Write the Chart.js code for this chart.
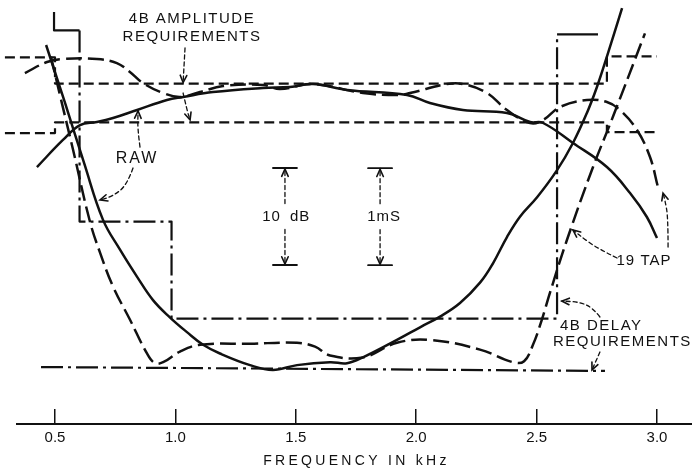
<!DOCTYPE html>
<html lang="en">
<head>
<meta charset="UTF-8">
<title>4B amplitude and delay requirements</title>
<script src="https://cdn.jsdelivr.net/npm/chart.js"></script>
<style>
  html, body { margin: 0; padding: 0; background: #fff; }
  #wrap { width: 692px; height: 471px; }
</style>
</head>
<body>
<div id="wrap"><canvas id="chart" width="692" height="471"></canvas></div>
<script>
// frequency axis, kHz
const xTicks = [0.5, 1.0, 1.5, 2.0, 2.5, 3.0];

// 4B amplitude requirement mask (dB)
const ampUpperFreq = [0.292, 0.5, 0.5, 2.792, 2.792, 3.0];
const ampUpperDb   = [4.7, 4.7, 2.0, 2.0, 4.8, 4.8];
const ampLowerFreq = [0.292, 0.5, 0.5, 2.792, 2.792, 2.99];
const ampLowerDb   = [-3.1, -3.1, -2.0, -2.0, -3.0, -3.0];

// 4B delay requirement mask (ms)
const delayUpperFreq = [0.496, 0.496, 0.602, 0.602, 0.984, 0.984, 2.585, 2.585, 2.755];
const delayUpperMs   = [3.68, 3.49, 3.49, 1.52, 1.52, 0.52, 0.52, 3.45, 3.45];
const delayLowerFreq = [0.442, 2.784];
const delayLowerMs   = [0.02, -0.02];

// raw channel, amplitude (dB)
const rawAmpFreq = [0.425, 0.533, 0.604, 0.674, 0.741, 0.841, 0.965, 1.032, 1.156, 1.364, 1.476, 1.571,
  1.713, 1.962, 2.057, 2.194, 2.377, 2.473, 2.527, 2.651, 2.792, 2.888, 2.958, 3.000];
const rawAmpDb = [-6.60, -3.81, -2.27, -1.96, -1.55, -0.72, 0.31, 0.62, 1.13, 1.55, 1.65, 1.96,
  1.34, 0.82, 0.00, -0.72, -1.03, -1.96, -2.06, -4.12, -6.60, -9.28, -11.75, -13.92];

// 19 tap equalized, amplitude (dB)
const tapAmpFreq = [0.375, 0.467, 0.533, 0.674, 0.757, 0.811, 0.865, 0.949, 1.019, 1.102, 1.198, 1.364,
  1.434, 1.571, 1.779, 1.920, 1.974, 2.128, 2.194, 2.294, 2.377, 2.473, 2.527, 2.597, 2.709, 2.792,
  2.846, 2.917, 2.971, 3.004];
const tapAmpDb = [3.09, 4.23, 4.54, 4.54, 4.12, 3.20, 2.06, 1.03, 0.62, 1.13, 1.75, 1.86,
  1.44, 1.96, 1.03, 0.82, 1.03, 1.96, 1.96, 1.03, -0.72, -2.06, -1.75, -0.41, 0.31, 0.10,
  -0.72, -2.78, -5.57, -8.66];

// raw channel, delay (ms)
const rawDelayFreq = [0.463, 0.542, 0.620, 0.699, 0.770, 0.841, 0.907, 0.978, 1.048, 1.115, 1.185, 1.310,
  1.405, 1.505, 1.642, 1.713, 1.779, 1.920, 2.016, 2.099, 2.182, 2.265, 2.319, 2.377, 2.431, 2.502,
  2.585, 2.651, 2.709, 2.751, 2.792, 2.855];
const rawDelayMs = [3.34, 2.74, 2.13, 1.54, 1.23, 0.95, 0.71, 0.53, 0.38, 0.25, 0.16, 0.04,
  -0.01, 0.04, 0.07, 0.06, 0.12, 0.30, 0.43, 0.54, 0.68, 0.89, 1.09, 1.36, 1.57, 1.77,
  2.05, 2.33, 2.64, 2.91, 3.22, 3.72];

// 19 tap equalized, delay (ms)
const tapDelayFreq = [0.483, 0.521, 0.575, 0.645, 0.687, 0.741, 0.811, 0.882, 0.915, 0.949, 1.019, 1.102,
  1.310, 1.505, 1.580, 1.642, 1.779, 1.920, 2.057, 2.265, 2.402, 2.448, 2.485, 2.522, 2.556, 2.626,
  2.734, 2.817, 2.950];
const tapDelayMs = [3.22, 2.82, 2.26, 1.52, 1.20, 0.85, 0.51, 0.16, 0.06, 0.07, 0.18, 0.25,
  0.26, 0.27, 0.23, 0.14, 0.12, 0.27, 0.30, 0.20, 0.07, 0.08, 0.25, 0.51, 0.79, 1.33,
  2.08, 2.60, 3.46];

// scale bars: 10 dB and 1 ms
const dbBar = { f: 1.455, top: -6.7, bottom: -16.7 };
const msBar = { f: 1.850, top: 2.07, bottom: 1.07 };

// callout text, placed in (kHz, dB)
const notes = [
  { t: '4B AMPLITUDE', f: 1.069, db: 8.66 },
  { t: 'REQUIREMENTS', f: 1.069, db: 6.80 },
  { t: 'RAW', f: 0.841, db: -5.77, size: 16, sp: 2 },
  { t: '19 TAP', f: 2.946, db: -16.29, sp: 1 },
  { t: '4B DELAY', f: 2.597, db: -22.99, align: 'left' },
  { t: 'REQUIREMENTS', f: 2.568, db: -24.64, align: 'left' }
];

// callout arrows, polyline in (kHz, dB), head at the last point
const arrows = [
  [[1.040, 5.67], [1.032, 2.1]],
  [[1.032, 1.03], [1.048, -0.72], [1.061, -1.75]],
  [[0.853, -4.54], [0.843, -2.7], [0.845, -0.82]],
  [[0.824, -6.70], [0.799, -8.45], [0.741, -9.59], [0.687, -10.0]],
  [[3.046, -14.85], [3.046, -11.75], [3.033, -10.0], [3.025, -9.28]],
  [[2.834, -15.98], [2.751, -14.95], [2.693, -13.92], [2.651, -13.09]],
  [[2.763, -22.06], [2.734, -21.13], [2.680, -20.52], [2.605, -20.41]],
  [[2.763, -25.67], [2.730, -27.53]]
];

const ink = '#111';
const FONT = '"Liberation Sans", Arial, sans-serif';
const DASH_DOT = [22, 5, 3, 5];

const pts = (fs, vs) => fs.map((f, i) => ({ x: f, y: vs[i] }));

function line(data, axis, dash, width, tension) {
  return {
    data: data, yAxisID: axis, borderColor: ink, borderWidth: width,
    borderDash: dash, tension: tension, pointRadius: 0, fill: false,
    clip: false, borderCapStyle: 'butt', borderJoinStyle: 'round'
  };
}

const delayUpper = line(pts(delayUpperFreq, delayUpperMs), 'yD', DASH_DOT, 2.2, 0);
// the short end caps are drawn solid
delayUpper.segment = {
  borderDash: ctx => (ctx.p0DataIndex < 2 || ctx.p0DataIndex === 7) ? [] : DASH_DOT
};

const datasets = [
  line(pts(ampUpperFreq, ampUpperDb), 'yA', [10, 5], 2.2, 0),
  line(pts(ampLowerFreq, ampLowerDb), 'yA', [10, 5], 2.2, 0),
  delayUpper,
  line(pts(delayLowerFreq, delayLowerMs), 'yD', DASH_DOT, 2.2, 0),
  line(pts(rawAmpFreq, rawAmpDb), 'yA', [], 2.5, 0.4),
  line(pts(tapAmpFreq, tapAmpDb), 'yA', [16, 6], 2.5, 0.4),
  line(pts(rawDelayFreq, rawDelayMs), 'yD', [], 2.5, 0.4),
  line(pts(tapDelayFreq, tapDelayMs), 'yD', [16, 6], 2.5, 0.4)
];

// arrows, scale bars and labels
const annotate = {
  id: 'annotate',
  afterDraw(chart) {
    const { ctx, scales } = chart;
    const sx = scales.x, sa = scales.yA, sd = scales.yD;
    const P = (f, db) => [sx.getPixelForValue(f), sa.getPixelForValue(db)];

    ctx.save();
    ctx.strokeStyle = ink;
    ctx.fillStyle = ink;
    ctx.lineCap = 'round';

    function curve(p, dash, w) {
      ctx.setLineDash(dash);
      ctx.lineWidth = w;
      ctx.beginPath();
      ctx.moveTo(p[0][0], p[0][1]);
      for (let i = 1; i < p.length - 1; i++) {
        const mx = (p[i][0] + p[i + 1][0]) / 2, my = (p[i][1] + p[i + 1][1]) / 2;
        ctx.quadraticCurveTo(p[i][0], p[i][1], mx, my);
      }
      const last = p[p.length - 1];
      ctx.lineTo(last[0], last[1]);
      ctx.stroke();
    }
    function head(tip, from, len) {
      const a = Math.atan2(tip[1] - from[1], tip[0] - from[0]);
      ctx.setLineDash([]);
      ctx.lineWidth = 1.6;
      ctx.beginPath();
      ctx.moveTo(tip[0] - len * Math.cos(a - 0.42), tip[1] - len * Math.sin(a - 0.42));
      ctx.lineTo(tip[0], tip[1]);
      ctx.lineTo(tip[0] - len * Math.cos(a + 0.42), tip[1] - len * Math.sin(a + 0.42));
      ctx.stroke();
    }
    function text(t, x, y, size, align, sp) {
      ctx.font = size + 'px ' + FONT;
      ctx.letterSpacing = sp + 'px';
      ctx.textAlign = align;
      ctx.textBaseline = 'middle';
      ctx.fillText(t, x, y);
    }

    arrows.forEach(a => {
      const p = a.map(q => P(q[0], q[1]));
      curve(p, [4, 3], 1.3);
      head(p[p.length - 1], p[p.length - 2], 8);
    });

    // scale bars
    function bar(f, yTop, yBot, label, dx) {
      const x = sx.getPixelForValue(f);
      const mid = (yTop + yBot) / 2;
      ctx.setLineDash([]);
      ctx.lineWidth = 1.8;
      ctx.beginPath();
      ctx.moveTo(x - 12, yTop); ctx.lineTo(x + 12, yTop);
      ctx.moveTo(x - 12, yBot); ctx.lineTo(x + 12, yBot);
      ctx.stroke();
      curve([[x, mid - 13], [x, yTop + 1]], [4, 3], 1.3);
      head([x, yTop + 1], [x, mid], 8);
      curve([[x, mid + 13], [x, yBot - 1]], [4, 3], 1.3);
      head([x, yBot - 1], [x, mid], 8);
      label(x, mid);
    }
    bar(dbBar.f, sa.getPixelForValue(dbBar.top), sa.getPixelForValue(dbBar.bottom), (x, y) => {
      text('10', x - 4, y, 15, 'right', 1);
      text('dB', x + 5, y, 15, 'left', 1);
    });
    bar(msBar.f, sd.getPixelForValue(msBar.top), sd.getPixelForValue(msBar.bottom), (x, y) => {
      text('1mS', x + 4, y, 15, 'center', 1);
    });

    notes.forEach(n => {
      const p = P(n.f, n.db);
      text(n.t, p[0], p[1], n.size || 15, n.align || 'center', n.sp === undefined ? 1.5 : n.sp);
    });

    // axis title
    text('FREQUENCY IN kHz', (sx.left + sx.right) / 2 + 2, sx.bottom - 10, 14, 'center', 3.3);
    ctx.restore();
  }
};

new Chart(document.getElementById('chart'), {
  type: 'line',
  data: { datasets: datasets },
  options: {
    responsive: false,
    animation: false,
    devicePixelRatio: 1,
    events: [],
    layout: { padding: { left: 17, right: 0, top: 0, bottom: 0 } },
    plugins: { legend: { display: false }, tooltip: { enabled: false } },
    scales: {
      x: {
        type: 'linear',
        min: 0.3422,
        max: 3.1454,
        afterBuildTicks: s => { s.ticks = xTicks.map(v => ({ value: v })); },
        afterFit: s => { s.height = 47; },
        grid: { display: true, drawOnChartArea: false, drawTicks: true, tickLength: -15, color: ink, lineWidth: 1.5 },
        border: { display: true, color: ink, width: 2 },
        ticks: {
          padding: 20,
          color: ink,
          font: { family: FONT, size: 15 },
          maxRotation: 0,
          callback: v => Number(v).toFixed(1)
        },
        title: { display: false }
      },
      yA: { type: 'linear', display: false, min: -33.09, max: 10.62 },
      yD: { type: 'linear', display: false, min: -0.567, max: 3.804 }
    }
  },
  plugins: [annotate]
});
</script>
</body>
</html>
